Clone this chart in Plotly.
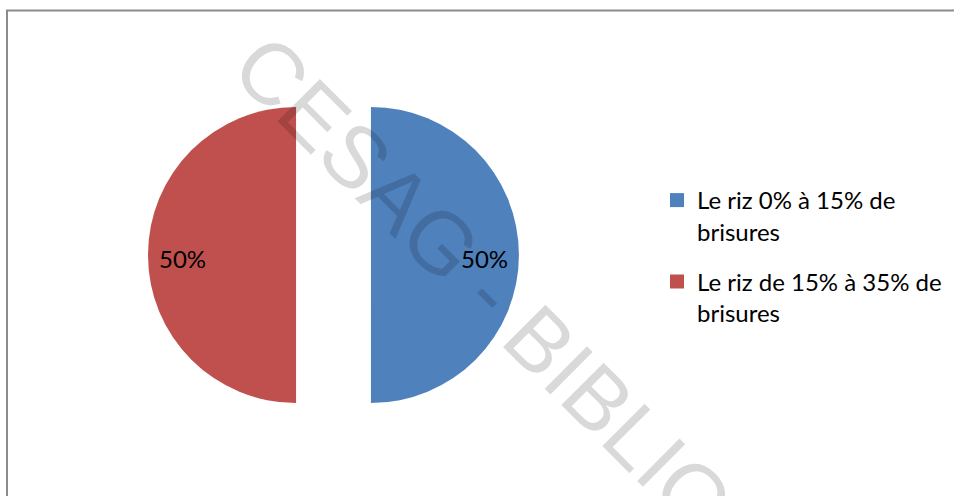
import math
import plotly.graph_objects as go

# ---- data ----
labels = ["Le riz 0% à 15% de<br>brisures", "Le riz de 15% à 35% de<br>brisures"]
values = [50, 50]
colors = ["#4F81BD", "#C0504D"]
pulls = [0.253, 0.253]
watermark = "CESAG - BIBLIOTHEQUE"

W, H = 954, 496
FONT = "Lato"

# pie domain (paper)
dom_x = [148 / W, 519 / W]
dom_y = [1 - 440.5 / H, 1 - 69.5 / H]

fig = go.Figure()
fig.add_trace(go.Pie(
    labels=labels, values=values, sort=False, direction="clockwise", rotation=0,
    marker=dict(colors=colors, line=dict(width=0)),
    pull=pulls, textinfo="none", hoverinfo="label+percent",
    domain=dict(x=dom_x, y=dom_y), showlegend=False,
))

# legend entries (square swatches) for each slice
for i, (lab, col) in enumerate(zip(labels, colors)):
    fig.add_trace(go.Scatter(
        x=[None], y=[None], mode="markers", name=lab,
        marker=dict(symbol="square", size=14, color=col),
        legendgroup=f"g{i}", showlegend=True, hoverinfo="skip",
    ))

# data labels placed on each slice using pie geometry
box_w = (dom_x[1] - dom_x[0]) * W
box_h = (dom_y[1] - dom_y[0]) * H
r = min(box_w, box_h) / (2 * (1 + max(pulls)))
cx = (dom_x[0] + dom_x[1]) / 2 * W
cy = (1 - (dom_y[0] + dom_y[1]) / 2) * H
total = sum(values)
start = 0.0
annotations = []
for v, p in zip(values, pulls):
    frac = v / total
    mid = (start + frac / 2) * 2 * math.pi  # clockwise from top
    start += frac
    dist = p * r + 0.77 * r
    px = cx + dist * math.sin(mid)
    py = cy - dist * math.cos(mid) + 3
    annotations.append(dict(
        x=px / W, y=1 - py / H, xref="paper", yref="paper",
        xanchor="center", yanchor="middle",
        text=f"{round(frac * 100)}%", showarrow=False,
        font=dict(family=FONT, size=24, color="black"),
    ))

# watermark
annotations.append(dict(
    x=612 / W, y=1 - 412 / H, xref="paper", yref="paper",
    text=watermark, showarrow=False, textangle=45,
    xanchor="center", yanchor="middle",
    font=dict(family="Liberation Sans", size=87, color="rgba(0,0,0,0.15)"),
))

fig.update_layout(
    width=W, height=H, autosize=False,
    margin=dict(l=0, r=0, t=0, b=0),
    paper_bgcolor="white", plot_bgcolor="white",
    font=dict(family=FONT, size=24, color="black"),
    xaxis=dict(visible=False), yaxis=dict(visible=False),
    legend=dict(x=657 / W, y=1 - 178 / H, xanchor="left", yanchor="top",
                valign="top", tracegroupgap=16, itemsizing="trace",
                font=dict(family=FONT, size=24, color="black"),
                bgcolor="rgba(0,0,0,0)"),
    annotations=annotations,
    shapes=[dict(type="rect", xref="paper", yref="paper",
                 x0=7 / W, x1=1.05, y0=-0.05, y1=1 - 10.5 / H,
                 line=dict(color="#8C8C8C", width=2), layer="above")],
)

fig.write_html("out.html")
